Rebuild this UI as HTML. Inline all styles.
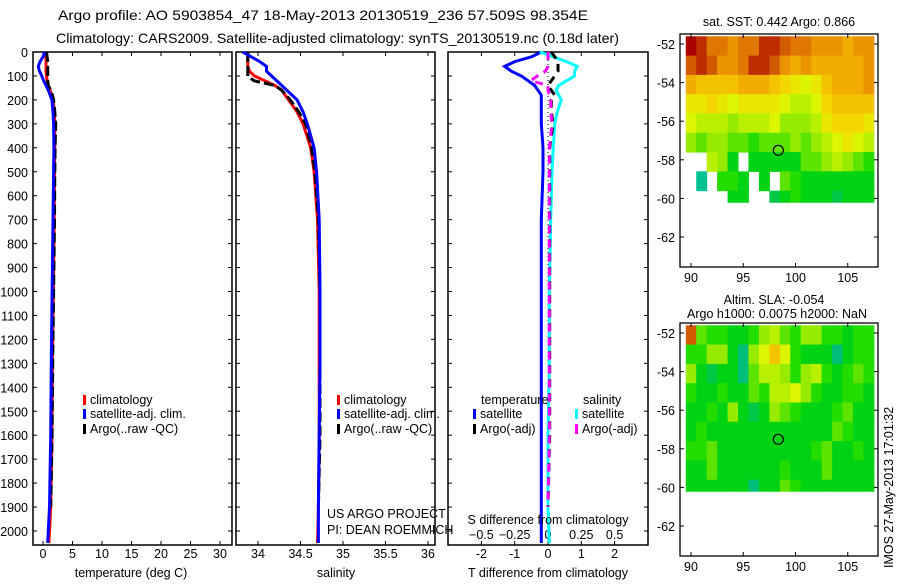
<!DOCTYPE html>
<html><head><meta charset="utf-8"><style>
body{margin:0;background:#fff;}
svg text{font-family:"Liberation Sans",sans-serif;font-size:12.5px;fill:#000;}
</style></head><body>
<svg id="fig" width="900" height="580" xmlns="http://www.w3.org/2000/svg">
<text x="58" y="20" textLength="530" lengthAdjust="spacingAndGlyphs" style="font-size:14px">Argo profile: AO 5903854_47 18-May-2013 20130519_236 57.509S 98.354E</text>
<text x="56" y="43" textLength="563" lengthAdjust="spacingAndGlyphs" style="font-size:14px">Climatology: CARS2009. Satellite-adjusted climatology: synTS_20130519.nc (0.18d later)</text>
<g id="g"></g>
</svg>
<script>
const depths=[0,20,40,60,80,100,120,140,160,180,200,250,300,400,500,700,1000,1300,1600,1900,2050];
const climT=[0.5,0.5,0.5,0.5,0.5,0.6,0.7,0.9,1.2,1.4,1.7,1.9,2.0,2.0,1.95,1.9,1.75,1.6,1.5,1.3,1.0];
const satT=[0.3,0.0,-0.5,-0.8,-0.6,-0.2,0.1,0.5,0.9,1.2,1.5,1.7,1.8,1.85,1.8,1.7,1.55,1.4,1.3,1.1,0.8];
const argoT=[0.6,0.7,0.8,0.8,0.8,0.8,0.8,0.9,1.3,1.6,1.8,2.0,2.15,2.05,2.0,1.95,1.8,1.65,1.55,1.3,null];
const climS=[33.88,33.88,33.88,33.88,33.9,33.96,34.08,34.2,34.28,34.32,34.36,34.46,34.53,34.62,34.66,34.7,34.72,34.72,34.72,34.71,34.7];
const satS=[33.82,33.92,34.02,34.1,34.1,34.16,34.22,34.28,34.34,34.4,34.46,34.53,34.58,34.66,34.69,34.72,34.73,34.73,34.72,34.71,34.71];
const argoS=[33.88,33.88,33.88,33.88,33.88,33.88,33.95,34.2,34.28,34.33,34.38,34.48,34.56,34.63,34.67,34.71,34.73,34.73,34.73,34.71,null];
const depthTicks=[0,100,200,300,400,500,600,700,800,900,1000,1100,1200,1300,1400,1500,1600,1700,1800,1900,2000];
const tTicks=[0,5,10,15,20,25,30];
const sTicks=[34,34.5,35,35.5,36];
const tdTicks=[-2,-1,0,1,2];
const sdTicks=[-0.5,-0.25,0,0.25,0.5];
const lonTicks=[90,95,100,105];
const latTicks=[-52,-54,-56,-58,-60,-62];
const sstGrid=[
[1,.95,.85,.85,.8,.85,.85,.95,.95,.9,.85,.85,.8,.8,.8,.75,.8,.8],
[.9,.95,.9,.8,.8,.85,.95,.95,.9,.8,.75,.8,.75,.75,.75,.75,.75,.8],
[.75,.7,.7,.7,.7,.75,.75,.75,.7,.65,.6,.55,.6,.7,.75,.75,.75,.8],
[.6,.6,.65,.6,.55,.6,.6,.6,.6,.55,.5,.5,.55,.65,.7,.7,.7,.7],
[.55,.5,.5,.5,.45,.5,.5,.5,.55,.45,.45,.45,.5,.6,.65,.65,.65,.6],
[.45,.4,.45,.45,.4,.4,.35,.4,.4,.4,.45,.4,.45,.5,.55,.6,.55,.5],
[null,null,.5,.45,.3,null,.3,.3,.3,.3,.3,.4,.4,.45,.5,.45,.4,.35],
[null,.15,null,.35,.35,.3,null,.3,null,.4,.35,.3,.3,.3,.3,.3,.3,.3],
[null,null,null,null,.3,.3,null,null,.25,.3,.35,.3,.3,.3,.25,.3,.3,.3]];
const slaGrid=[
[.9,.4,.35,.35,.3,.3,.35,.45,.5,.4,.35,.45,.45,.35,.35,.3,.35,.35],
[.35,.35,.45,.45,.3,.2,.45,.55,.7,.55,.35,.3,.3,.3,.2,.3,.35,.35],
[.45,.3,.25,.3,.3,.2,.4,.5,.5,.45,.35,.45,.5,.35,.3,.35,.4,.35],
[.35,.3,.3,.35,.3,.3,.4,.35,.5,.5,.55,.45,.35,.3,.3,.35,.35,.3],
[.3,.3,.35,.3,.45,.3,.25,.3,.45,.4,.35,.3,.3,.3,.35,.4,.3,.3],
[.3,.35,.3,.3,.3,.3,.3,.3,.3,.3,.3,.3,.3,.3,.4,.35,.3,.3],
[.35,.35,.4,.3,.3,.3,.3,.3,.3,.3,.3,.3,.35,.4,.3,.3,.35,.3],
[.3,.3,.4,.3,.3,.3,.3,.3,.3,.35,.3,.3,.3,.4,.3,.3,.3,.3],
[.3,.3,.3,.3,.3,.3,.2,.3,.3,.4,.35,.3,.3,.3,.3,.3,.3,.3]];
const argoLon=98.354, argoLat=-57.509;

const NS='http://www.w3.org/2000/svg';
const G=document.getElementById('g');
function el(t,a,p){const e=document.createElementNS(NS,t);for(const k in a)e.setAttribute(k,a[k]);(p||G).appendChild(e);return e;}
const yD=d=>52+d*0.2395;
const xT=v=>43+v*5.9;
const xS=v=>258+(v-34)*85;
const xTD=v=>548+v*33.3;
const xSD=v=>548+v*133.2;
const yTop=52,yBot=545;

function frame(x0,x1,name){
  const r=el('rect',{x:x0,y:yTop,width:x1-x0,height:yBot-yTop,fill:'none',stroke:'#000','stroke-width':1.5});
  
  
  depthTicks.forEach(d=>{el('line',{x1:x0,x2:x0+4,y1:yD(d),y2:yD(d),stroke:'#000'});el('line',{x1:x1,x2:x1-4,y1:yD(d),y2:yD(d),stroke:'#000'});});
}
function xticks(ticks,fx,y,name,labels){
  ticks.forEach(v=>{const x=fx(v);el('line',{x1:x,x2:x,y1:yTop,y2:yTop+4,stroke:'#000'});el('line',{x1:x,x2:x,y1:yBot,y2:yBot-4,stroke:'#000'});
   if(labels){const t=el('text',{x:x,y:y,'text-anchor':'middle'});t.textContent=String(v);
   
   }});
}
function line(xs,fx,color,name,dash,w){
  let d='';let pen=false;
  xs.forEach((v,i)=>{if(v===null){pen=false;return;}d+=(pen?'L':'M')+fx(v).toFixed(1)+' '+yD(depths[i]).toFixed(1);pen=true;});
  const p=el('path',{d:d,fill:'none',stroke:color,'stroke-width':w||3,'stroke-dasharray':dash||'none'});
  
  
}
function txt(x,y,s,name,anchor){const t=el('text',{x:x,y:y,'text-anchor':anchor||'start'});t.textContent=s;
  
  return t;}
function legend(x,y,color,s,name){el('rect',{x:x,y:y-9,width:3,height:10,fill:color});txt(x+7,y,s,name);}

// panel 1
frame(33,232,'temperature-panel');
depthTicks.forEach(d=>txt(28,yD(d)+5,String(d),'depth-tick-label','end'));
xticks(tTicks,xT,558,'temperature-tick-label',true);
line(climT,xT,'#f00','climatology-temperature-line');
line(argoT,xT,'#000','argo-temperature-line','10 4');
line(satT,xT,'#00f','satellite-temperature-line');
txt(131,577,'temperature (deg C)','temperature-axis-title','middle');
legend(83,404,'#f00','climatology','legend-climatology');
legend(83,418,'#00f','satellite-adj. clim.','legend-satellite');
legend(83,433,'#000','Argo(..raw -QC)','legend-argo');

// panel 2
frame(236,435,'salinity-panel');
xticks(sTicks,xS,558,'salinity-tick-label',true);
line(climS,xS,'#f00','climatology-salinity-line');
line(argoS,xS,'#000','argo-salinity-line','10 4');
line(satS,xS,'#00f','satellite-salinity-line');
txt(336,577,'salinity','salinity-axis-title','middle');
legend(337,404,'#f00','climatology','legend-climatology-s');
legend(337,418,'#00f','satellite-adj. clim.','legend-satellite-s');
legend(337,433,'#000','Argo(..raw -QC)','legend-argo-s');
txt(327,518,'US ARGO PROJECT','project-label');
txt(327,534,'PI: DEAN ROEMMICH','pi-label');

// panel 3
frame(448,648,'difference-panel');
xticks(tdTicks,xTD,558,'t-diff-tick-label',true);
sdTicks.forEach(v=>txt(xSD(v),539,String(v).replace('-','\u2212'),'s-diff-tick-label','middle'));
el('line',{x1:548,x2:548,y1:yTop,y2:yBot,stroke:'#000','stroke-dasharray':'1 3'});
const diff=(a,b)=>a.map((v,i)=>v===null?null:v-b[i]);
line(diff(satT,climT),xTD,'#00f','satellite-t-diff-line');
line(diff(satS,climS),xSD,'#0ff','satellite-s-diff-line');
line(diff(argoT,climT),xTD,'#000','argo-t-diff-line','8 6');
line(diff(argoS,climS),xSD,'#f0f','argo-s-diff-line','8 6');
txt(548,577,'T difference from climatology','t-diff-axis-title','middle');
txt(548,524,'S difference from climatology','s-diff-axis-title','middle');
txt(481,404,'temperature','legend-temperature-heading');
txt(583,404,'salinity','legend-salinity-heading');
legend(473,418,'#00f','satellite','legend-t-satellite');
legend(473,433,'#000','Argo(-adj)','legend-t-argo');
legend(575,418,'#0ff','satellite','legend-s-satellite');
legend(575,433,'#f0f','Argo(-adj)','legend-s-argo');

// maps
function col(v){
  const stops=[[0,[0,200,220]],[0.2,[0,190,120]],[0.32,[0,215,0]],[0.45,[150,235,0]],[0.55,[220,245,0]],[0.65,[245,215,0]],[0.78,[240,160,0]],[0.9,[210,90,0]],[1,[170,0,0]]];
  for(let i=1;i<stops.length;i++){if(v<=stops[i][0]){const [a,ca]=stops[i-1],[b,cb]=stops[i];const t=(v-a)/(b-a);return 'rgb('+ca.map((c,k)=>Math.round(c+(cb[k]-c)*t)).join(',')+')';}}
  return 'rgb(170,0,0)';
}
function map(y0,grid,name){
  const xL=lo=>691+(lo-90)*10.45;
  const yL=la=>y0+10+(-52-la)*19.3;
  const g=el('g',{});
  
  
  grid.forEach((row,r)=>row.forEach((v,c)=>{if(v===null)return;
    const la0=-51.6-r, la1=Math.max(-52.6-r,-60.2);
    el('rect',{x:xL(89.5+c),y:yL(la0),width:10.45+0.5,height:yL(la1)-yL(la0)+0.5,fill:col(v)},g);}));
  el('rect',{x:680,y:y0,width:198,height:233,fill:'none',stroke:'#000','stroke-width':1.3});
  lonTicks.forEach(lo=>{const x=xL(lo);el('line',{x1:x,x2:x,y1:y0,y2:y0+4,stroke:'#000'});el('line',{x1:x,x2:x,y1:y0+233,y2:y0+229,stroke:'#000'});txt(x,y0+248,String(lo),'longitude-tick-label','middle');});
  latTicks.forEach(la=>{const y=yL(la);el('line',{x1:680,x2:684,y1:y,y2:y,stroke:'#000'});el('line',{x1:878,x2:874,y1:y,y2:y,stroke:'#000'});txt(675,y+5,String(la),'latitude-tick-label','end');});
  const c=el('circle',{cx:xL(argoLon),cy:yL(argoLat),r:5,fill:'none',stroke:'#000','stroke-width':1.2});
  
  
}
map(34,sstGrid,'sst-map');
txt(779,26,'sat. SST: 0.442 Argo: 0.866','sst-map-title','middle');
map(323,slaGrid,'sla-map');
txt(774,304,'Altim. SLA: -0.054','sla-map-title','middle');
txt(777,318,'Argo h1000: 0.0075 h2000: NaN','sla-map-subtitle','middle');
const r=txt(0,0,'IMOS 27-May-2013 17:01:32','timestamp-label','start');
r.setAttribute('transform','translate(893,568) rotate(-90)');
</script>
</body></html>
